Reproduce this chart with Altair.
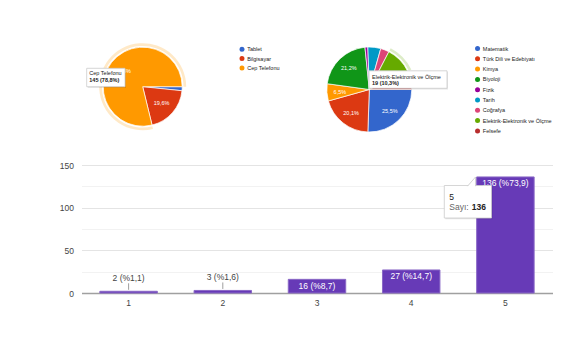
import math
import pandas as pd
import altair as alt

FONT = "Liberation Sans"

# ---- data ----
device_cats = ["Tablet", "Bilgisayar", "Cep Telefonu"]
device_counts = [3, 36, 145]
device_colors = ["#3366cc", "#dc3912", "#ff9900"]

subject_cats = ["Matematik", "Türk Dili ve Edebiyatı", "Kimya", "Biyoloji", "Fizik",
                "Tarih", "Coğrafya", "Elektrik-Elektronik ve Ölçme", "Felsefe"]
subject_counts = [47, 37, 12, 39, 2, 9, 6, 19, 13]
subject_colors = ["#3366cc", "#dc3912", "#ff9900", "#109618", "#990099",
                  "#0099c6", "#dd4477", "#66aa00", "#b82e2e"]

rating_cats = ["1", "2", "3", "4", "5"]
rating_counts = [2, 3, 16, 27, 136]

device_hover = "Cep Telefonu"
subject_hover = "Elektrik-Elektronik ve Ölçme"
rating_hover = "5"
# slice labels that sit under the tooltip box in the reference
subject_covered = [subject_hover, "Felsefe"]


def pct(c, total):
    return f"{100 * c / total:.1f}".replace(".", ",")


def pie_df(cats, counts, hidden):
    total = sum(counts)
    return pd.DataFrame({
        "cat": cats,
        "count": counts,
        "i": list(range(len(cats))),
        "lbl": [(pct(c, total) + "%") if (100 * c / total >= 6 and k not in hidden) else ""
                for k, c in zip(cats, counts)],
    })


dev_df = pie_df(device_cats, device_counts, [])
sub_df = pie_df(subject_cats, subject_counts, subject_covered)

r_total = sum(rating_counts)
bar_df = pd.DataFrame({
    "rating": rating_cats,
    "count": rating_counts,
    "lbl": [f"{c} (%{pct(c, r_total)})" for c in rating_counts],
})

THETA_RANGE = [math.pi / 2, math.pi / 2 + 2 * math.pi]


def pie_layers(df, cats, colors, cx, cy, r, label_r, hover, hover_color, lx, ly, rowpad):
    theta = alt.Theta("count:Q", stack=True, scale=alt.Scale(range=THETA_RANGE))
    base = alt.Chart(df).encode(theta=theta, order=alt.Order("i:Q"),
                                x=alt.value(cx), y=alt.value(cy))
    slices = base.mark_arc(radius=r, stroke="white", strokeWidth=0.7).encode(
        color=alt.Color("cat:N", scale=alt.Scale(domain=cats, range=colors),
                        legend=alt.Legend(orient="none", legendX=lx, legendY=ly, title=None,
                                          symbolType="circle", symbolSize=25,
                                          symbolStrokeWidth=0, labelFontSize=5.5,
                                          labelFont=FONT, labelColor="#222",
                                          clipHeight=6, rowPadding=rowpad,
                                          labelOffset=2.5, padding=0)))
    ring = base.mark_arc(radius=r + 4, radius2=r + 1.3).encode(
        detail="cat:N", color=alt.value(hover_color),
        opacity=alt.condition(alt.datum.cat == hover, alt.value(0.22), alt.value(0)))
    labels = base.mark_text(radius=label_r, fontSize=5.5, color="white", font=FONT).encode(
        detail="cat:N", text="lbl:N")
    return [slices, ring, labels]


def tip_box(x1, y1, x2, y2):
    one = pd.DataFrame({"a": [0]})
    shadow = alt.Chart(one).mark_rect(fill="#000", opacity=0.1).encode(
        x=alt.value(x1 + 1), x2=alt.value(x2 + 1), y=alt.value(y1 + 1), y2=alt.value(y2 + 1.2))
    box = alt.Chart(one).mark_rect(fill="white", stroke="#cccccc", strokeWidth=0.8).encode(
        x=alt.value(x1), x2=alt.value(x2), y=alt.value(y1), y2=alt.value(y2))
    return [shadow, box]


def tip_text(txt, x, y, size, bold=False, color="#222"):
    return alt.Chart(pd.DataFrame({"t": [txt]})).mark_text(
        align="left", baseline="middle", fontSize=size, font=FONT,
        fontWeight="bold" if bold else "normal", color=color).encode(
        x=alt.value(x), y=alt.value(y), text="t:N")


# ---- bar chart ----
xenc = alt.X("rating:N", sort=rating_cats,
             scale=alt.Scale(paddingInner=0.39, paddingOuter=0.195),
             axis=alt.Axis(labelAngle=0, ticks=False, domainColor="#a0a0a0", domainWidth=1.5,
                           labelPadding=5, labelFontSize=8.5, labelColor="#444",
                           labelFont=FONT, title=None, grid=False))
yenc = alt.Y("count:Q", scale=alt.Scale(domain=[0, 150], nice=False),
             axis=alt.Axis(values=list(range(0, 151, 25)),
                           labelExpr="datum.value % 50 == 0 ? datum.label : ''",
                           ticks=False, domain=False, labelPadding=8, labelFontSize=8.5,
                           labelColor="#444", labelFont=FONT, title=None,
                           gridColor={"condition": {"test": "datum.value % 50 == 0",
                                                    "value": "#e4e4e4"},
                                      "value": "#f2f2f2"}))

bbase = alt.Chart(bar_df).encode(x=xenc, y=yenc)
bars = bbase.mark_bar(color="#673ab7", stroke="#8a68c6", strokeWidth=1)
out_lbl = bbase.transform_filter("datum.count < 10").mark_text(
    dy=-13, fontSize=8.5, color="#444", font=FONT).encode(text="lbl:N")
lead = bbase.transform_filter("datum.count < 10").mark_rule(
    color="#9e9e9e", strokeWidth=1, yOffset=-1.5, y2Offset=-8).encode(y2=alt.Y2("count:Q"))
in_lbl = bbase.transform_filter("datum.count >= 10").mark_text(
    dy=6.5, baseline="middle", fontSize=8.5, color="white", font=FONT).encode(text="lbl:N")

# ---- pies ----
pie1 = pie_layers(dev_df, device_cats, device_colors, 61.2, -78.3, 39.5, 25,
                  device_hover, "#ff9900", 157.7, -118.7, 2.3)
pie2 = pie_layers(sub_df, subject_cats, subject_colors, 287.8, -75.5, 42.5, 29.5,
                  subject_hover, "#66aa00", 393.3, -119.5, 3.3)

# ---- tooltips ----
dev_i = device_cats.index(device_hover)
sub_i = subject_cats.index(subject_hover)
rat_i = rating_cats.index(rating_hover)
d_total = sum(device_counts)
s_total = sum(subject_counts)

tips = []
tips += tip_box(5.2, -96.7, 43.5, -78.3)
tips += [tip_text(device_hover, 7.8, -92.3, 5.5),
         tip_text(f"{device_counts[dev_i]} ({pct(device_counts[dev_i], d_total)}%)", 7.8, -84.6, 5.5, bold=True)]
tips += tip_box(287.5, -94.2, 365.5, -76.7)
tips += [tip_text(subject_hover, 290.5, -88.5, 5.5),
         tip_text(f"{subject_counts[sub_i]} ({pct(subject_counts[sub_i], s_total)}%)", 290.5, -82.0, 5.5, bold=True)]
tips += tip_box(362.8, 20.5, 410, 53)
pointer = alt.Chart(pd.DataFrame({"a": [0]})).mark_point(
    shape="M-1,1.3L1,-1L1,1.3", size=64, filled=True, fill="white", stroke="#c8c8c8",
    strokeWidth=0.8, opacity=1).encode(x=alt.value(390), y=alt.value(16))
tips += [pointer,
         tip_text(rating_hover, 367.8, 31.7, 8.5),
         tip_text("Sayı:", 367.8, 41.7, 8.5, color="#666"),
         tip_text(str(rating_counts[rat_i]), 390.2, 41.7, 8.5, bold=True)]

chart = alt.layer(bars, lead, out_lbl, in_lbl, *pie1, *pie2, *tips).resolve_scale(
    color="independent"
).properties(
    width=471, height=128,
    padding={"left": 73.5, "top": 157, "right": 7.5, "bottom": 59},
    autosize=alt.AutoSizeParams(type="none"),
    background="white",
).configure_view(stroke=None).configure_text(font=FONT)

chart.save("out.html", embed_options={"renderer": "svg", "actions": False})
